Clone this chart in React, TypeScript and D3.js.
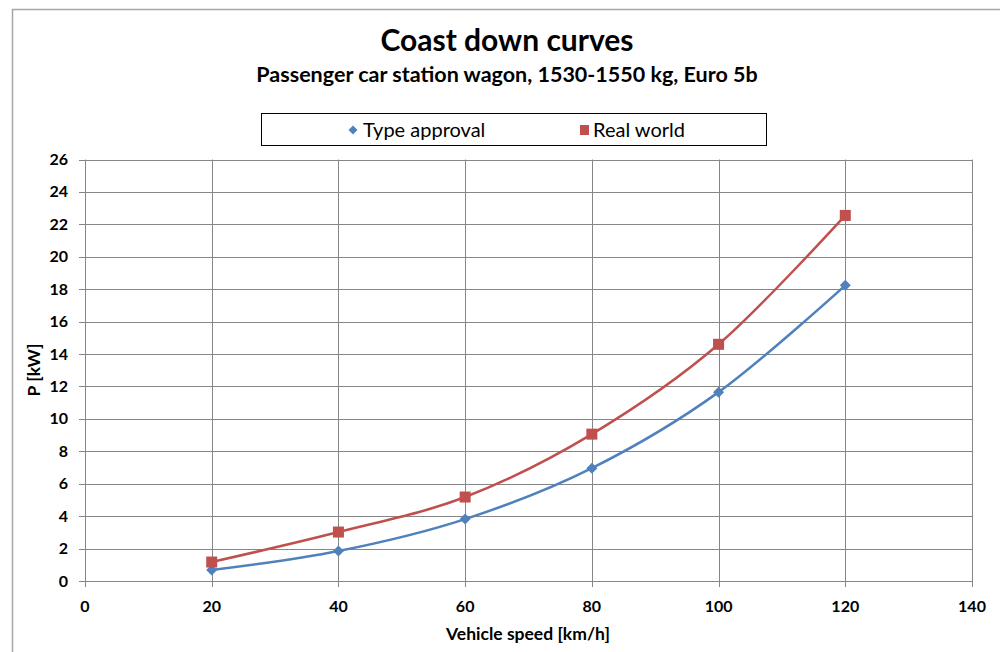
import React from "react";
import * as d3 from "d3";

const speeds = [20, 40, 60, 80, 100, 120];
const typeApproval = [0.68, 1.85, 3.82, 6.96, 11.65, 18.24];
const realWorld = [1.17, 3.02, 5.18, 9.06, 14.6, 22.55];
const xTicks = [0, 20, 40, 60, 80, 100, 120, 140];
const yTicks = [0, 2, 4, 6, 8, 10, 12, 14, 16, 18, 20, 22, 24, 26];
const seriesNames = ["Type approval", "Real world"];

const W = 1000, H = 652;
const left = 85, right = 972, top = 159.5, bottom = 581;
const FONT = "Lato, 'Open Sans', sans-serif";
const BLUE = "#4F81BD", RED = "#C0504D";

export default function App() {
  const x = d3.scaleLinear().domain([0, 140]).range([left, right]);
  const y = d3.scaleLinear().domain([0, 26]).range([bottom, top]);
  const line = d3.line<number>()
    .x((_, i) => x(speeds[i]))
    .y((d) => y(d))
    .curve(d3.curveCatmullRom.alpha(0));
  const diamond = (cx: number, cy: number, r: number) =>
    `M${cx},${cy - r}L${cx + r},${cy}L${cx},${cy + r}L${cx - r},${cy}Z`;

  return (
    <svg width={W} height={H} style={{ position: "absolute", left: 0, top: 0, background: "#fff" }}>
      <rect x={0} y={0} width={W} height={H} fill="#fff" />
      <path d={`M12.5,${H}L12.5,9.5L${W},9.5`} fill="none" stroke="#a6a6a6" strokeWidth={1.5} />
      <text x={507} y={51} textAnchor="middle" fontFamily={FONT} fontWeight="bold" fontSize={30} fill="#000">Coast down curves</text>
      <text x={507} y={82} textAnchor="middle" fontFamily={FONT} fontWeight="bold" fontSize={21.5} fill="#000">Passenger car station wagon, 1530-1550 kg, Euro 5b</text>

      {/* legend */}
      <rect x={261.5} y={113.5} width={505} height={32} fill="#fff" stroke="#000" strokeWidth={1} />
      <path d={diamond(353, 130, 4.5)} fill={BLUE} />
      <text x={363} y={137} fontFamily={FONT} fontSize={20} fill="#000">{seriesNames[0]}</text>
      <rect x={580} y={125} width={9} height={10} fill={RED} />
      <text x={593} y={137} fontFamily={FONT} fontSize={20} fill="#000">{seriesNames[1]}</text>

      {/* grid */}
      {yTicks.map((t) => (
        <g key={"y" + t}>
          <line x1={left - 6} x2={right} y1={Math.round(y(t)) + 0.5} y2={Math.round(y(t)) + 0.5} stroke="#868686" strokeWidth={1} />
          <text x={68} y={y(t) + 5.5} textAnchor="end" fontFamily={FONT} fontWeight="bold" fontSize={16} fill="#000">{t}</text>
        </g>
      ))}
      {xTicks.map((t) => (
        <g key={"x" + t}>
          <line x1={Math.round(x(t)) + 0.5} x2={Math.round(x(t)) + 0.5} y1={top} y2={bottom + 6} stroke="#868686" strokeWidth={1} />
          <text x={x(t)} y={612} textAnchor="middle" fontFamily={FONT} fontWeight="bold" fontSize={16} fill="#000">{t}</text>
        </g>
      ))}
      <text x={528} y={640} textAnchor="middle" fontFamily={FONT} fontWeight="bold" fontSize={17.5} fill="#000">Vehicle speed [km/h]</text>
      <text transform={`translate(40,370) rotate(-90)`} textAnchor="middle" fontFamily={FONT} fontWeight="bold" fontSize={17.5} fill="#000">P [kW]</text>

      {/* series */}
      <path d={line(typeApproval) || ""} fill="none" stroke={BLUE} strokeWidth={2.5} />
      <path d={line(realWorld) || ""} fill="none" stroke={RED} strokeWidth={2.5} />
      {typeApproval.map((v, i) => (
        <path key={"ta" + i} d={diamond(x(speeds[i]), y(v), 5.5)} fill={BLUE} />
      ))}
      {realWorld.map((v, i) => (
        <rect key={"rw" + i} x={x(speeds[i]) - 5.5} y={y(v) - 5.5} width={11} height={11} fill={RED} />
      ))}
    </svg>
  );
}
